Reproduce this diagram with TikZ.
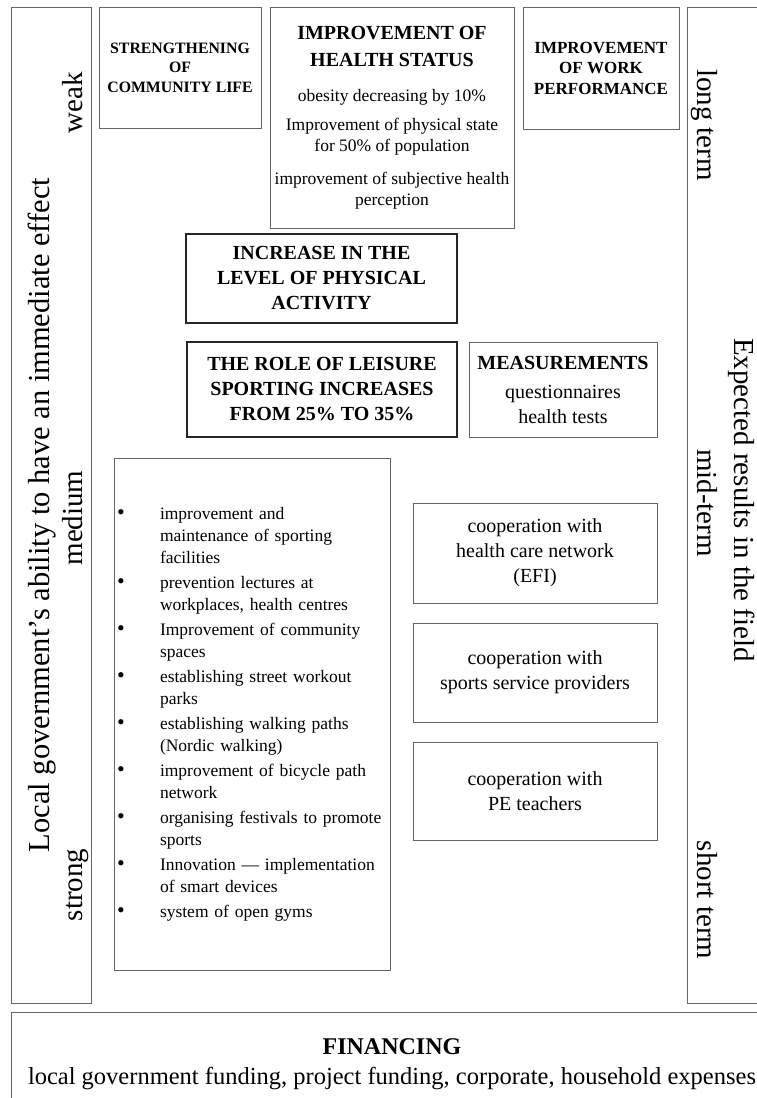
\documentclass[tikz,border=0pt]{standalone}
\usepackage{fontspec}
\setmainfont{Liberation Serif}
\newcommand{\dotmark}{{\fontsize{22}{22}\selectfont\textbullet}}
\tikzset{
  box/.style={draw=black!60, line width=0.9pt, inner sep=0pt, align=center},
  thickbox/.style={draw=black!85, line width=1.6pt, inner sep=0pt, align=center, font=\fontsize{20}{25}\selectfont\bfseries},
  lefttext/.style={inner sep=0pt, anchor=base, rotate=90, font=\fontsize{29}{34}\selectfont},
  righttext/.style={inner sep=0pt, anchor=base, rotate=-90, font=\fontsize{29}{34}\selectfont}
}

\begin{document}
\begin{tikzpicture}[x=1pt,y=-1pt]
                \useasboundingbox (0,0) rectangle (757,1098);
                \fill[white] (0,0) rectangle (757,1098);
                \clip (0,0) rectangle (757,1098);
                \node[box, minimum width=80pt, minimum height=996pt] (govcol) at (51,505) {};
                \node[box, minimum width=86pt, minimum height=996pt] (rescol) at (730,505) {};
                \node[lefttext, font=\fontsize{30.5}{34}\selectfont] (ability) at (49,515) {Local government’s ability to have an immediate effect};
                \node[lefttext] (weak) at (82,103) {weak};
                \node[lefttext] (medium) at (82,518) {medium};
                \node[lefttext] (strong) at (82,885) {strong};
                \node[righttext] (expected) at (734,500) {Expected results in the field};
                \node[righttext] (longterm) at (697,125) {long term};
                \node[righttext] (midterm) at (697,503) {mid-term};
                \node[righttext] (shortterm) at (697,900) {short term};
                \node[box, minimum width=162pt, minimum height=121pt, font=\fontsize{15.8}{19.5}\selectfont\bfseries] (community) at (180,67.5) {STRENGTHENING\\ OF\\ COMMUNITY LIFE};
                \node[box, minimum width=244pt, minimum height=221pt, font=\fontsize{17.5}{21}\selectfont] (health) at (392,117.5)
                  {{\fontsize{20}{21}\selectfont\bfseries IMPROVEMENT OF}\\[6pt]
                   {\fontsize{20}{21}\selectfont\bfseries HEALTH STATUS}\\[14pt]
                   obesity decreasing by 10\%\\[8pt]
                   Improvement of physical state\\
                   for 50\% of population\\[12pt]
                   improvement of subjective health\\
                   perception};
                \node[box, minimum width=156pt, minimum height=122pt, font=\fontsize{17}{20.5}\selectfont\bfseries] (work) at (601,68) {IMPROVEMENT\\ OF WORK\\ PERFORMANCE};
                \node[thickbox, minimum width=271pt, minimum height=89pt] (activity) at (321.5,278.5) {INCREASE IN THE\\ LEVEL OF PHYSICAL\\ ACTIVITY};
                \node[thickbox, minimum width=270pt, minimum height=95pt] (leisure) at (322,389.5) {THE ROLE OF LEISURE\\ SPORTING INCREASES\\ FROM 25\% TO 35\%};
                \node[box, minimum width=188pt, minimum height=95pt, font=\fontsize{20}{25}\selectfont] (measure) at (563,389.5) {{\bfseries MEASUREMENTS}\\[4pt] questionnaires\\ health tests};
                \node[box, minimum width=276pt, minimum height=512pt, text width=270pt, inner xsep=3pt, align=left, font=\fontsize{17.5}{22}\selectfont] (actions) at (252,714)
                  {\noindent\begin{tabular}{@{}p{43pt}@{}l@{}}
                   \dotmark & improvement and\\
                    & maintenance of sporting\\
                    & facilities\\[3pt]
                   \dotmark & prevention lectures at\\
                    & workplaces, health centres\\[3pt]
                   \dotmark & Improvement of community\\
                    & spaces\\[3pt]
                   \dotmark & establishing street workout\\
                    & parks\\[3pt]
                   \dotmark & establishing walking paths\\
                    & (Nordic walking)\\[3pt]
                   \dotmark & improvement of bicycle path\\
                    & network\\[3pt]
                   \dotmark & organising festivals to promote\\
                    & sports\\[3pt]
                   \dotmark & Innovation --- implementation\\
                    & of smart devices\\[3pt]
                   \dotmark & system of open gyms
                   \end{tabular}};
                \node[box, minimum width=244pt, minimum height=100pt, font=\fontsize{20}{25}\selectfont] (coophealth) at (535,553) {cooperation with\\ health care network\\ (EFI)};
                \node[box, minimum width=244pt, minimum height=99pt, font=\fontsize{20}{25}\selectfont] (coopsport) at (535,672.5) {cooperation with\\ sports service providers};
                \node[box, minimum width=244pt, minimum height=98pt, font=\fontsize{20}{25}\selectfont] (coopteach) at (535,791) {cooperation with\\ PE teachers};
                \node[box, minimum width=762pt, minimum height=104pt, font=\fontsize{24.5}{30}\selectfont] (financing) at (392,1064)
                  {{\fontsize{24}{30}\selectfont\bfseries FINANCING}\\
                   local government funding, project funding, corporate, household expenses};
            \end{tikzpicture}
\end{document}
